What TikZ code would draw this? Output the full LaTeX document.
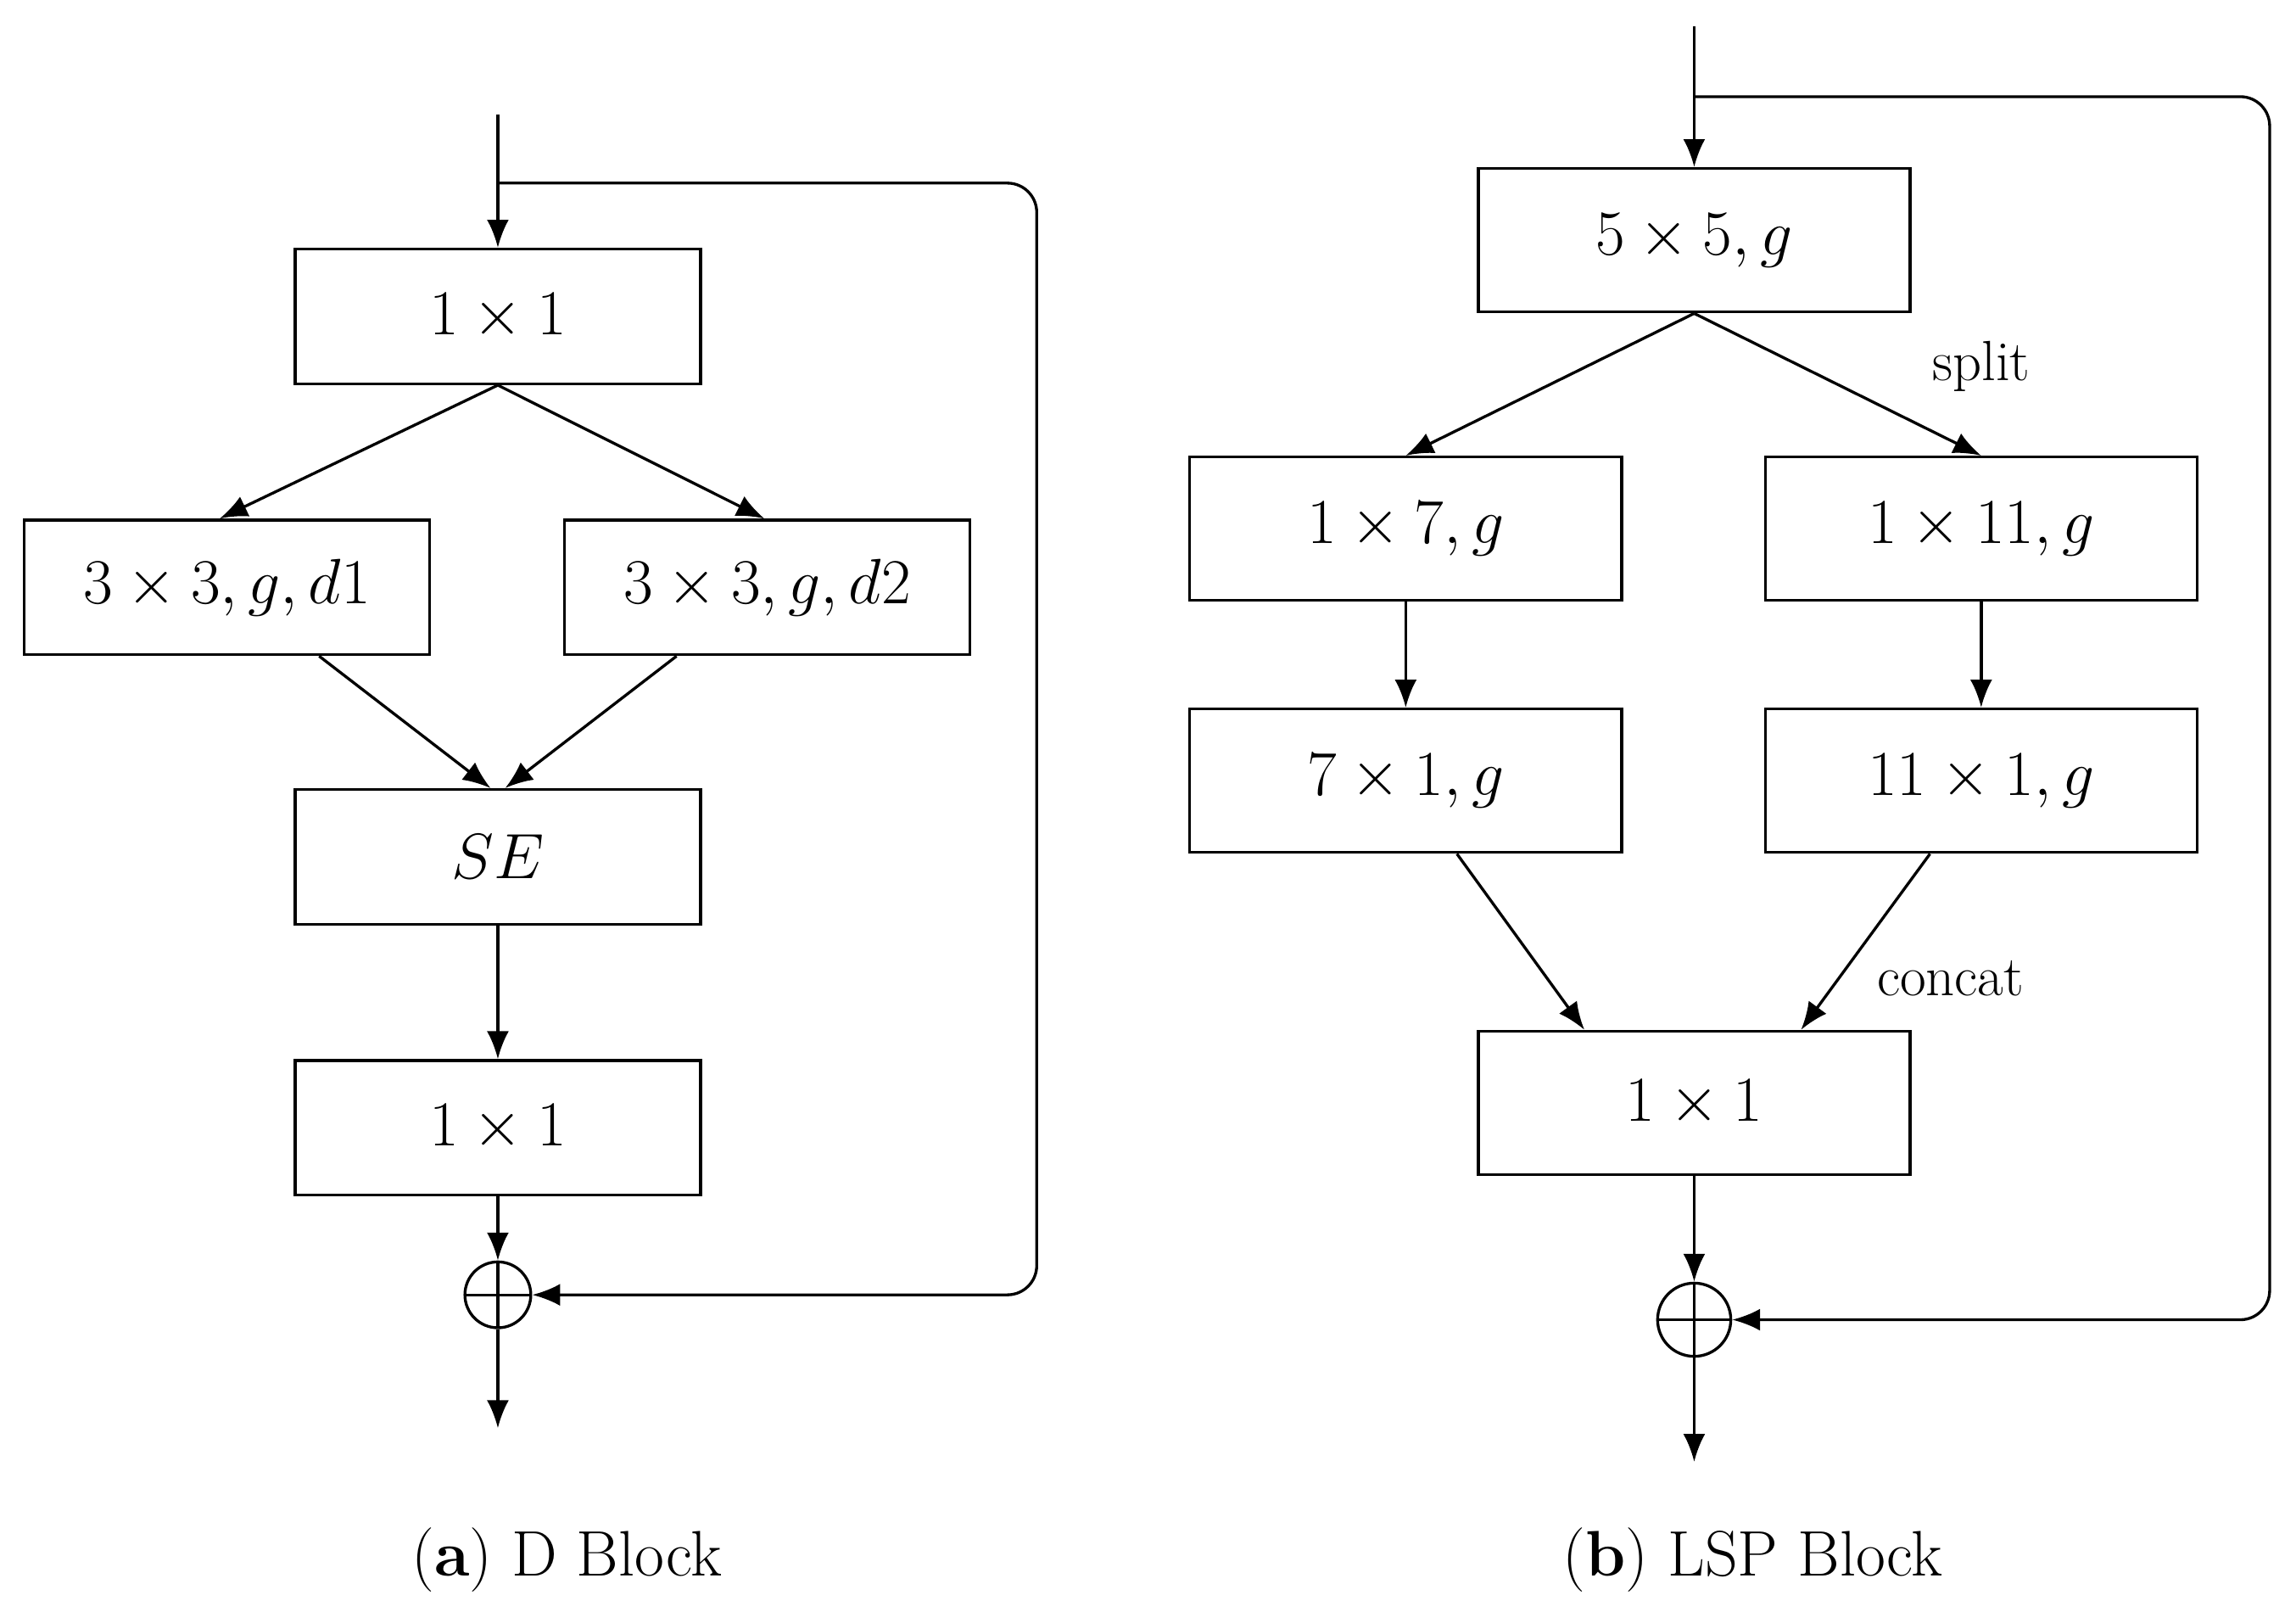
\documentclass[tikz,border=0pt]{standalone}
\usepackage{amsmath}
\usetikzlibrary{arrows.meta}
\begin{document}
\begin{tikzpicture}[x=0.02cm,y=-0.02cm,line width=1.1pt,
  blk/.style={draw,minimum width=5.54cm,minimum height=1.84cm,inner sep=0pt,font=\fontsize{26}{30}\selectfont},
  blkb/.style={draw,minimum width=5.9cm,minimum height=1.96cm,inner sep=0pt,font=\fontsize{28}{32}\selectfont},
  sum/.style={draw,circle,minimum size=#1,inner sep=0pt,path picture={
    \draw (path picture bounding box.north) -- (path picture bounding box.south)
          (path picture bounding box.west) -- (path picture bounding box.east);}},
  arr/.style={-{Latex[length=0.38cm,width=0.3cm]}},
  lbl/.style={font=\fontsize{22}{26}\selectfont},
  captxt/.style={font=\fontsize{25}{30}\selectfont}]
\useasboundingbox (0,0) rectangle (1568,1100);
% (a) D Block
\coordinate (ain) at (340,78);
\coordinate (asplit) at (340,125);
\coordinate (aout) at (340,975);
\node[blk] (a1) at (340,216) {$1\times1$};
\node[blk] (ad1) at (155,401) {$3\times3,g,d1$};
\node[blk] (ad2) at (524,401) {$3\times3,g,d2$};
\node[blk] (ase) at (340,585) {$SE$};
\node[blk] (a2) at (340,770) {$1\times1$};
\node[sum=0.9cm] (asum) at (340,884) {};
\draw[arr] (ain) -- (a1);
\draw[arr] (a1.south) -- ([xshift=-0.1cm]ad1.north);
\draw[arr] (a1.south) -- ([xshift=-0.04cm]ad2.north);
\draw[arr] ([xshift=1.26cm]ad1.south) -- ([xshift=-0.1cm]ase.north);
\draw[arr] ([xshift=-1.24cm]ad2.south) -- ([xshift=0.1cm]ase.north);
\draw[arr] (ase) -- (a2);
\draw[arr] (a2) -- (asum);
\draw[arr] (asum) -- (aout);
\draw[arr,rounded corners=0.4cm] (asplit) -- (708,125) -- (708,884) -- (asum.east);
\node[captxt] (acap) at (387,1065) {(\textbf{a}) D Block};
% (b) LSP Block
\coordinate (bin) at (1157,18);
\coordinate (bsplit) at (1157,66);
\coordinate (bout) at (1157,998);
\node[blkb] (b5) at (1157,164) {$5\times5,g$};
\node[blkb] (b17) at (960,361) {$1\times7,g$};
\node[blkb] (b111) at (1353,361) {$1\times11,g$};
\node[blkb] (b71) at (960,533) {$7\times1,g$};
\node[blkb] (b11) at (1353,533) {$11\times1,g$};
\node[blkb] (b1) at (1157,753) {$1\times1$};
\node[sum=1cm] (bsum) at (1157,901) {};
\draw[arr] (bin) -- (b5);
\draw[arr] (b5.south) -- (b17.north);
\draw[arr] (b5.south) -- (b111.north);
\node[lbl] (lsplit) at (1353,250) {split};
\draw[arr] (b17) -- (b71);
\draw[arr] (b111) -- (b11);
\draw[arr] ([xshift=0.7cm]b71.south) -- ([xshift=-1.5cm]b1.north);
\draw[arr] ([xshift=-0.7cm]b11.south) -- ([xshift=1.46cm]b1.north);
\node[lbl] (lconcat) at (1332,668) {concat};
\draw[arr] (b1) -- (bsum);
\draw[arr] (bsum) -- (bout);
\draw[arr,rounded corners=0.4cm] (bsplit) -- (1550,66) -- (1550,901) -- (bsum.east);
\node[captxt] (bcap) at (1197,1065) {(\textbf{b}) LSP Block};
\end{tikzpicture}
\end{document}
